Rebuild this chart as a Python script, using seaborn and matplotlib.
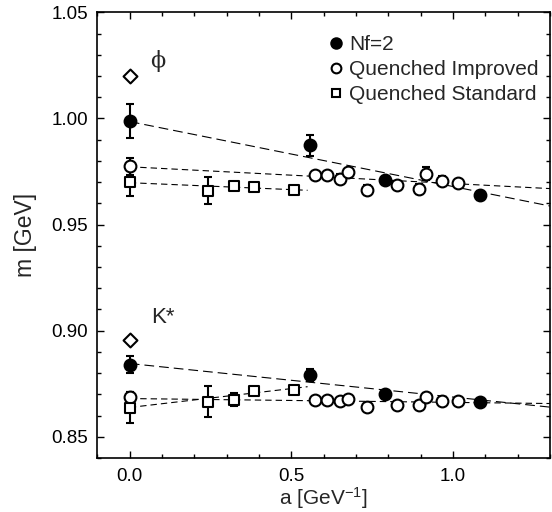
import numpy as np
import pandas as pd
import matplotlib
matplotlib.use("Agg")
import matplotlib.pyplot as plt
import seaborn as sns
from matplotlib.lines import Line2D

sns.set_style("ticks")
plt.rcParams['font.family'] = ['Liberation Sans', 'DejaVu Sans']
plt.rcParams['mathtext.fontset'] = 'custom'
plt.rcParams['mathtext.rm'] = 'Liberation Sans'
plt.rcParams['mathtext.it'] = 'Liberation Sans:italic'
plt.rcParams['lines.scale_dashes'] = False

# ---------------- data ----------------
a_nf2 = [0.0, 0.559, 0.788, 1.082]
a_imp = [0.0, 0.574, 0.611, 0.650, 0.675, 0.734, 0.828, 0.895, 0.917, 0.965, 1.015]
a_std = [0.0, 0.243, 0.321, 0.385, 0.507]

phi_nf2 = [0.9987, 0.9873, 0.9711, 0.9637]
phi_nf2_err = [0.0080, 0.0048, 0.0015, 0.0020]
phi_imp = [0.9774, 0.9735, 0.9731, 0.9714, 0.9746, 0.9664, 0.9686, 0.9667, 0.9739, 0.9706, 0.9698]
phi_imp_err = [0.0040, 0.0012, 0.0012, 0.0022, 0.0016, 0.0024, 0.0016, 0.0022, 0.0030, 0.0022, 0.0012]
phi_std = [0.9700, 0.9660, 0.9680, 0.9675, 0.9662]
phi_std_err = [0.0065, 0.0065, 0.0015, 0.0012, 0.0010]
phi_exp = 1.0198

ks_nf2 = [0.8840, 0.8791, 0.8703, 0.8665]
ks_nf2_err = [0.0040, 0.0028, 0.0012, 0.0012]
ks_imp = [0.8687, 0.8673, 0.8673, 0.8668, 0.8679, 0.8638, 0.8652, 0.8651, 0.8689, 0.8668, 0.8667]
ks_imp_err = [0.0025, 0.0010, 0.0010, 0.0010, 0.0012, 0.0012, 0.0010, 0.0012, 0.0015, 0.0012, 0.0010]
ks_std = [0.8637, 0.8665, 0.8674, 0.8716, 0.8720]
ks_std_err = [0.0072, 0.0072, 0.0030, 0.0012, 0.0010]
ks_exp = 0.8957

# linear fits: (intercept, slope, a_end)
fit_phi_nf2 = (0.9985, -0.0306, 1.3)
fit_phi_imp = (0.9772, -0.0079, 1.3)
fit_phi_std = (0.9697, -0.0065, 0.55)
fit_ks_nf2 = (0.8845, -0.0158, 1.3)
fit_ks_imp = (0.8680, -0.0018, 1.3)
fit_ks_std = (0.8638, 0.0178, 0.55)

legend_labels = ["Nf=2", "Quenched Improved", "Quenched Standard"]
xticks = [0.0, 0.5, 1.0]
yticks = [0.85, 0.90, 0.95, 1.00, 1.05]

# ---------------- figure ----------------
fig = plt.figure(figsize=(5.52, 5.12), dpi=100)
ax = fig.add_axes([0.1766, 0.1055, 0.8198, 0.8705])

long_dash = (0, (7.0, 3.6))
short_dash = (0, (4.6, 2.9))

def fit_line(params, ls):
    b, k, aend = params
    xs = np.array([0.0, aend])
    df = pd.DataFrame({"a": xs, "m": b + k * xs})
    sns.lineplot(data=df, x="a", y="m", ax=ax, color="black", lw=0.8,
                 linestyle=ls, zorder=1, estimator=None, sort=False)

for p in (fit_phi_nf2, fit_ks_nf2):
    fit_line(p, long_dash)
for p in (fit_phi_imp, fit_phi_std, fit_ks_imp, fit_ks_std):
    fit_line(p, short_dash)

series = [
    (a_nf2, phi_nf2, phi_nf2_err, 'o', 'black', 72),
    (a_imp, phi_imp, phi_imp_err, 'o', 'white', 72),
    (a_std, phi_std, phi_std_err, 's', 'white', 50),
    (a_nf2, ks_nf2, ks_nf2_err, 'o', 'black', 72),
    (a_imp, ks_imp, ks_imp_err, 'o', 'white', 72),
    (a_std, ks_std, ks_std_err, 's', 'white', 50),
]
for a, m, e, mk, fc, s in series:
    ax.errorbar(a, m, yerr=e, fmt='none', ecolor='black', elinewidth=1.5,
                capsize=3.2, capthick=1.5, zorder=2)
    df = pd.DataFrame({"a": a, "m": m})
    sns.scatterplot(data=df, x="a", y="m", ax=ax, marker=mk, s=s,
                    facecolor=fc, edgecolor='black', linewidth=1.5, zorder=3)

dexp = pd.DataFrame({"a": [0.0, 0.0], "m": [phi_exp, ks_exp]})
sns.scatterplot(data=dexp, x="a", y="m", ax=ax, marker='D', s=50,
                facecolor='white', edgecolor='black', linewidth=1.5, zorder=3)

ax.text(0.086, 1.0272, "ϕ", fontsize=16, family=['DejaVu Serif'],
        ha='center', va='center')
ax.text(0.102, 0.9063, "K*", fontsize=16, ha='center', va='center')

ax.set_xlim(-0.1, 1.3)
ax.set_ylim(0.84, 1.05)
ax.set_xticks(xticks)
ax.set_yticks(yticks)
ax.set_xticklabels([f"{t:.1f}" for t in xticks])
ax.set_yticklabels([f"{t:.2f}" for t in yticks])
ax.set_xticks(np.arange(-0.1, 1.31, 0.1), minor=True)
ax.set_yticks(np.arange(0.84, 1.051, 0.01), minor=True)
ax.tick_params(which='both', direction='in', top=True, right=True,
               colors='black', labelsize=13.5, width=1.0)
ax.tick_params(which='major', length=5, pad=7)
ax.tick_params(which='minor', length=3)
for sp in ax.spines.values():
    sp.set_linewidth(1.2)
    sp.set_color('black')

ax.set_xlabel("a [GeV$^{-1}$]", fontsize=15, labelpad=0)
ax.set_ylabel("m [GeV]", fontsize=16.5, labelpad=10)

handles = [
    Line2D([], [], ls='none', marker='o', ms=7.5, mfc='black', mec='black', mew=1.5),
    Line2D([], [], ls='none', marker='o', ms=7, mfc='white', mec='black', mew=1.5),
    Line2D([], [], ls='none', marker='s', ms=6, mfc='white', mec='black', mew=1.5),
]
ax.legend(handles, legend_labels, loc='upper left', bbox_to_anchor=(0.49, 0.968),
          frameon=False, fontsize=15, handlelength=0.8, handletextpad=0.25,
          labelspacing=0.3, borderaxespad=0.0)

fig.savefig("out.png", dpi=100)
